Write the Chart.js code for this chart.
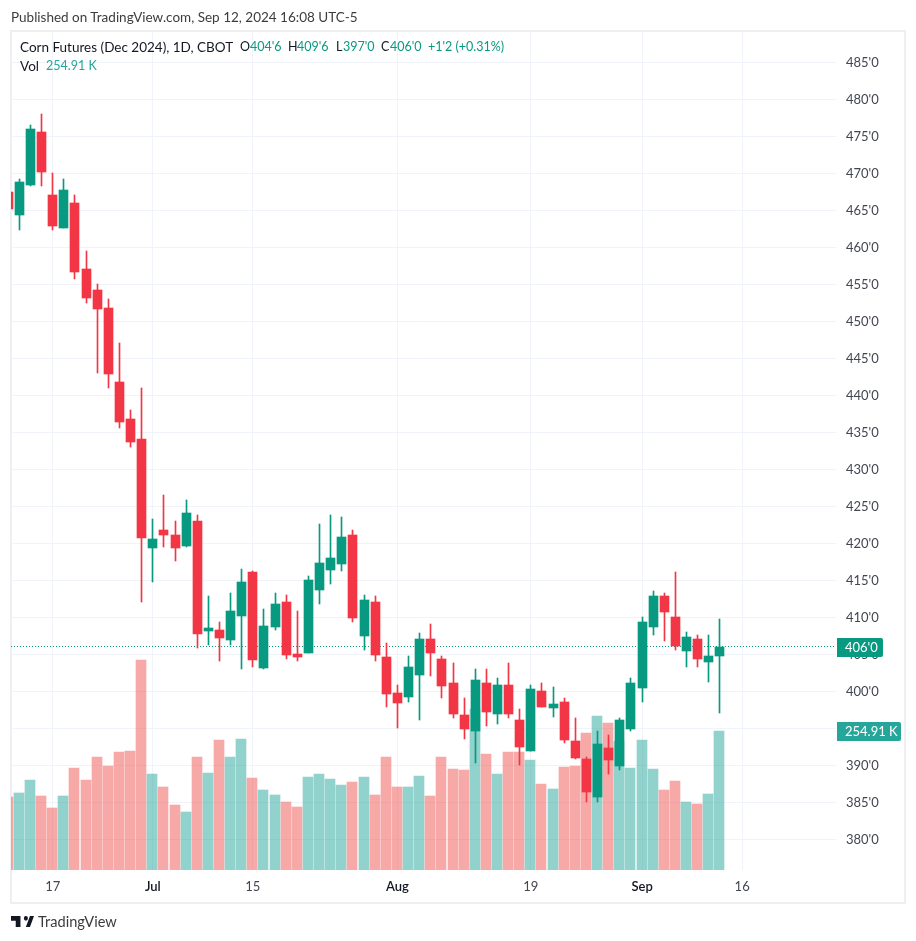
<!DOCTYPE html>
<html>
<head>
<meta charset="utf-8">
<title>Corn Futures (Dec 2024)</title>
<script src="https://cdn.jsdelivr.net/npm/chart.js@4"></script>
<style>
  html, body { margin: 0; padding: 0; background: #fff; }
  body { width: 916px; height: 941px; position: relative; overflow: hidden; font-family: Lato, "Noto Sans", sans-serif; }
  canvas { position: absolute; left: 0; top: 0; }
  .frame { position: absolute; left: 10px; top: 30px; width: 892px; height: 870px; border: 2px solid #eeeef3; }
  .txt { position: absolute; white-space: nowrap; line-height: 18px; font-size: 13.5px; color: #131722; }
  .num { font-size: 12.5px; }
  .up { color: #089981; }
  .vol { color: #26a69a; }
  .pub { color: #3c3c3c; font-size: 13.5px; }
  .brand { color: #3c3c3c; font-size: 14.6px; }
  svg { position: absolute; left: 11px; top: 916px; }
</style>
</head>
<body>
<div class="frame"></div>
<canvas id="chart" width="916" height="941"></canvas>

<div class="txt pub" style="left:11px;top:8px">Published on TradingView.com, Sep 12, 2024 16:08 UTC-5</div>
<div class="txt" style="left:20px;top:38px">Corn Futures (Dec 2024), 1D, CBOT</div>
<div class="txt num" style="left:240px;top:38px">O</div><div class="txt num up" style="left:250px;top:38px">404'6</div>
<div class="txt num" style="left:288px;top:38px">H</div><div class="txt num up" style="left:297px;top:38px">409'6</div>
<div class="txt num" style="left:336px;top:38px">L</div><div class="txt num up" style="left:343px;top:38px">397'0</div>
<div class="txt num" style="left:381px;top:38px">C</div><div class="txt num up" style="left:390px;top:38px">406'0</div>
<div class="txt num up" style="left:428px;top:38px">+1'2 (+0.31%)</div>
<div class="txt" style="left:20px;top:57px">Vol</div>
<div class="txt num vol" style="left:46px;top:57px">254.91 K</div>

<svg width="23" height="11" viewBox="0 6 34 14" preserveAspectRatio="none"><path fill="#131722" d="M14 6H0v6h7v8h7V6Zm14 14h-6l6-14h6l-6 14Zm-6-8a3 3 0 1 0 0-6 3 3 0 0 0 0 6Z"/></svg>
<div class="txt brand" style="left:38px;top:913px">TradingView</div>

<script>
// daily bars, the first one is cut off by the left edge of the pane
const opens = [467.5,
  464.4, 468.4, 475.6, 467.1, 462.6, 466, 457.1, 454.2, 451.8, 441.8,
  436.8, 434.1, 419.4, 421.8, 421.1, 419.6, 423, 408.1, 408.3, 406.9,
  410.2, 416.1, 403.1, 408.7, 412.1, 405, 405.2, 413.7, 416.4, 417.2,
  421.1, 407.5, 412.1, 404.6, 399.8, 399.2, 402.2, 407.1, 404.4, 401.1,
  396.8, 394.6, 401.1, 396.9, 400.9, 396.1, 391.9, 400, 397.7, 398.6,
  393.3, 390.9, 385.7, 392.3, 389.9, 394.9, 400.4, 408.7, 412.9, 410,
  405.5, 407.1, 404, 404.75];
const closes = [465.2,
  468.8, 476, 470.2, 462.9, 467.7, 456.7, 453.1, 451.7, 442.9, 436.4,
  433.7, 420.7, 420.6, 421.1, 419.4, 424.1, 407.7, 408.6, 407.2, 410.9,
  414.8, 404.2, 408.8, 411.8, 404.9, 404.6, 415, 417.3, 418, 420.9,
  409.9, 412.3, 404.9, 399.6, 398.4, 403.3, 407.1, 405.2, 400.7, 396.9,
  394.9, 401.5, 397.2, 400.9, 396.9, 392.5, 400.3, 397.9, 398.3, 393.4,
  391, 386.4, 392.9, 390.7, 396.1, 401.1, 409.4, 412.9, 410.7, 406.1,
  407.3, 404.3, 404.8, 406];
const highs = [468.5,
  469.2, 476.5, 478, 470, 469.2, 467.1, 459.5, 455, 453, 447.1,
  438, 441, 423.3, 426.5, 423, 425.9, 423.8, 412.9, 409.4, 413.3,
  416.5, 416.2, 411.1, 413.3, 413, 410.9, 415.6, 422.6, 423.8, 423.5,
  421.8, 413, 412.9, 406.5, 400.9, 404.8, 407.9, 409.1, 404.8, 403.8,
  399.1, 403, 403, 401.8, 403.8, 397.6, 400.9, 401.1, 400.6, 399.1,
  396.4, 391.1, 394.6, 394.1, 396.4, 401.8, 410, 413.6, 413.3, 416.1,
  408, 407.6, 407.6, 409.75];
const lows = [464.5,
  462.3, 468.3, 468.3, 462.3, 462.6, 455.7, 452.5, 443, 441, 435.6,
  433, 412.1, 414.8, 419.5, 417.6, 419.5, 405.9, 406.3, 404.1, 406.3,
  403, 403.3, 403, 408.3, 404.4, 404.1, 405.2, 411.8, 414.5, 416.3,
  409.4, 405.6, 404.1, 397.9, 395, 398.6, 396.1, 402.1, 399.1, 396.4,
  393.6, 390.3, 395.3, 395.6, 396.4, 390, 391.9, 397.9, 396.5, 393,
  390.9, 385, 385, 388.8, 389.4, 394.6, 398.6, 407.6, 406.8, 405.6,
  403.3, 403.3, 401.3, 397];
// thousands of contracts
const volumes = [133.9,
  141, 165, 135.7, 113.7, 135.7, 187, 165, 207, 190.7, 216.4,
  218.2, 385, 176, 152.2, 119.2, 106.4, 207, 177.9, 238.4, 207,
  240.2, 168.7, 146.7, 137.5, 124.7, 115.5, 170.6, 176, 166.9, 155.9,
  161.4, 170.6, 137.5, 207, 152.2, 152.2, 172.4, 135.7, 207, 185.2,
  183.4, 295.3, 212.7, 176, 216.4, 216.4, 201.7, 157.7, 148.5, 188.9,
  190.7, 251.2, 282.4, 269.6, 236.6, 187, 238.4, 185.2, 146.7, 163.2,
  124.7, 121, 139.4, 254.91];

const barIndex = opens.map((_, i) => i - 1);
const tickIndex = [3, 12, 21, 34, 46, 56, 65];
const tickLabels = ['17', 'Jul', '15', 'Aug', '19', 'Sep', '16'];
const monthLabels = ['Jul', 'Aug', 'Sep'];
const lastClose = 406;
const lastVolume = 254.91;

const UP = '#089981', DOWN = '#f23645';
const FONT = 'Lato, "Noto Sans", sans-serif';
const xMin = -0.751, xMax = 73.44;
const isUp = i => closes[i] >= opens[i];
const isMonthTick = ctx => !!ctx.tick && monthLabels.includes(tickLabels[tickIndex.indexOf(ctx.tick.value)]);

// TradingView draws on whole pixels, so snap the bars the scales have placed
const snapPlugin = {
  id: 'snap',
  beforeDatasetsDraw(chart) {
    chart.getSortedVisibleDatasetMetas().forEach(meta => {
      meta.data.forEach(el => {
        if (meta.type === 'line') {
          el.y = Math.floor(el.y) + 0.5;
        } else {
          el.x = meta.yAxisID === 'vol' ? Math.floor(el.x) : Math.floor(el.x) + 0.5;
          el.y = Math.round(el.y);
          el.base = Math.round(el.base);
        }
      });
    });
  }
};

// last value tags on the price scale
const tagPlugin = {
  id: 'tags',
  afterDraw(chart) {
    const c = chart.ctx;
    const left = chart.chartArea.right + 1;
    const tag = (y, w, color, text) => {
      const top = Math.round(y) - 9;
      c.fillStyle = color;
      c.beginPath();
      c.roundRect(left, top, w, 19, [0, 2, 2, 0]);
      c.fill();
      c.fillStyle = '#fff';
      c.font = '13px ' + FONT;
      c.textBaseline = 'middle';
      c.textAlign = 'left';
      c.fillText(text, left + 8, top + 10);
    };
    tag(chart.scales.y.getPixelForValue(lastClose), 46, UP, "406'0");
    tag(chart.scales.vol.getPixelForValue(lastVolume), 64, '#26a69a', '254.91 K');
  }
};

new Chart(document.getElementById('chart'), {
  type: 'bar',
  data: {
    datasets: [
      {
        label: 'Body',
        order: 0,
        grouped: false,
        barThickness: 9,
        yAxisID: 'y',
        data: barIndex.map((x, i) => ({ x, y: [opens[i], closes[i]] })),
        backgroundColor: barIndex.map((_, i) => isUp(i) ? UP : DOWN)
      },
      {
        label: 'Wick',
        order: 1,
        grouped: false,
        barThickness: 1,
        yAxisID: 'y',
        data: barIndex.map((x, i) => ({ x, y: [lows[i], highs[i]] })),
        backgroundColor: barIndex.map((_, i) => isUp(i) ? UP : DOWN)
      },
      {
        type: 'line',
        label: 'Last',
        order: 2,
        yAxisID: 'y',
        data: [{ x: xMin, y: lastClose }, { x: xMax, y: lastClose }],
        borderColor: UP,
        borderWidth: 1,
        borderDash: [1, 2],
        pointRadius: 0
      },
      {
        label: 'Vol',
        order: 3,
        grouped: false,
        barThickness: 10,
        yAxisID: 'vol',
        data: barIndex.map((x, i) => ({ x, y: volumes[i] })),
        backgroundColor: barIndex.map((_, i) => isUp(i) ? 'rgba(38,166,154,0.5)' : 'rgba(239,83,80,0.5)')
      }
    ]
  },
  options: {
    responsive: false,
    animation: false,
    devicePixelRatio: 1,
    layout: { padding: { left: 11, top: 31, right: 12, bottom: 39 } },
    plugins: { legend: { display: false }, tooltip: { enabled: false } },
    scales: {
      x: {
        type: 'linear',
        offset: false,
        min: xMin,
        max: xMax,
        afterFit(scale) { scale.height = 32; },
        afterBuildTicks(scale) { scale.ticks = tickIndex.map(value => ({ value })); },
        border: { display: false },
        grid: { color: '#f0f3fa', drawTicks: false, offset: false },
        ticks: {
          autoSkip: false,
          maxRotation: 0,
          padding: 9,
          callback: v => tickLabels[tickIndex.indexOf(v)],
          color: ctx => isMonthTick(ctx) ? '#131722' : '#434651',
          font: ctx => ({ family: FONT, size: 13, weight: isMonthTick(ctx) ? '600' : '400' })
        }
      },
      y: {
        position: 'right',
        min: 375.85,
        max: 489.23,
        afterFit(scale) { scale.width = 68; },
        border: { display: false },
        grid: { color: '#f0f3fa', drawTicks: false },
        ticks: {
          stepSize: 5,
          includeBounds: false,
          padding: 10,
          labelOffset: 1,
          color: '#434651',
          font: { family: FONT, size: 13 },
          callback: v => v + "'0"
        }
      },
      vol: { display: false, min: 0, max: 1538.6 }
    }
  },
  plugins: [snapPlugin, tagPlugin]
});
</script>
</body>
</html>
